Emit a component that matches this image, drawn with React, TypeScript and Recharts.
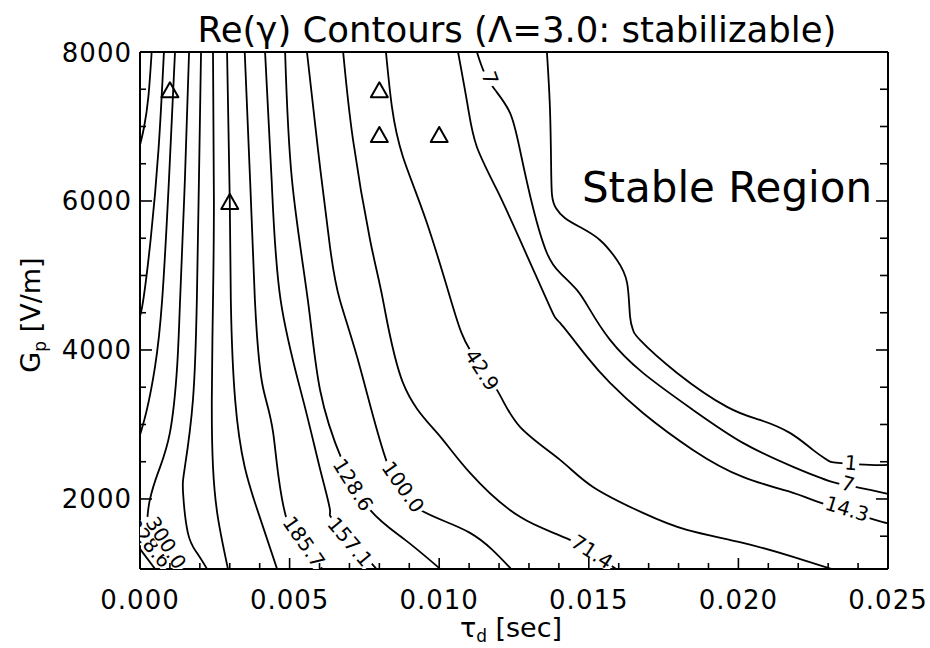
import { ComposedChart, Line, Scatter, XAxis, YAxis, Customized } from "recharts";

const FONT = "'DejaVu Sans', 'Liberation Sans', sans-serif";

// tau_d axis [sec]
const tauMajor = [0, 0.005, 0.01, 0.015, 0.02, 0.025];
const tauTicks = Array.from({ length: 26 }, (_, i) => i / 1000);

// G_p axis [V/m]
const gpMajor = [2000, 4000, 6000, 8000];
const gpTicks = [1500, 2000, 2500, 3000, 3500, 4000, 4500, 5000, 5500, 6000, 6500, 7000, 7500, 8000];

// contour lines of Re(gamma), as [tau_d, G_p] pairs
const level385 = [[0.00039, 8000], [0.00028, 7400], [0.00014, 7000], [0, 6750]];
const level357 = [[0.0008, 8000], [0.00062, 6700], [0.00036, 5500], [0.00012, 4700], [0, 4450]];
const level329 = [[0.00117, 8000], [0.00097, 6300], [0.00074, 4670], [0.0005, 3770], [0.00023, 3200], [0, 2860]];
const level329b = [[0, 1330], [0.0005, 1062]];
const level300 = [[0.00164, 8000], [0.0015, 6280], [0.00134, 4670], [0.00124, 3770], [0.001, 2890], [0.0006, 2350], [0.00033, 1990], [0.00025, 1760]];
const level271 = [[0.00204, 8000], [0.00197, 6280], [0.0019, 4670], [0.00177, 3330], [0.0015, 2430], [0.00144, 2080], [0.0016, 1545], [0.0019, 1277], [0.00224, 1062]];
const level243 = [[0.00244, 8000], [0.00247, 6010], [0.00244, 4670], [0.0024, 3330], [0.00244, 2430], [0.0026, 1760], [0.00294, 1062]];
const level214 = [[0.00291, 8000], [0.003, 6010], [0.00304, 4580], [0.00318, 3330], [0.0035, 2430], [0.004, 1760], [0.00458, 1062]];
const level186 = [[0.0035, 8000], [0.00368, 6280], [0.00384, 4670], [0.00408, 3560], [0.00445, 2890], [0.00491, 1720], [0.0061, 1062]];
const level157 = [[0.00418, 8000], [0.0044, 6280], [0.0047, 4670], [0.00545, 3330], [0.00602, 2400], [0.00635, 1850], [0.0065, 1700], [0.0079, 1062]];
const level129 = [[0.00485, 8000], [0.00508, 6280], [0.00561, 4670], [0.00602, 3460], [0.00675, 2525], [0.00769, 1854], [0.00886, 1451], [0.01003, 1062]];
const level100 = [[0.00558, 8000], [0.00595, 6685], [0.00635, 5383], [0.00668, 4670], [0.00735, 3773], [0.00826, 2484], [0.00936, 1854], [0.01103, 1545], [0.0124, 1062]];
const level71 = [[0.00679, 8000], [0.00712, 6819], [0.00769, 5477], [0.00812, 4672], [0.00879, 3558], [0.00993, 2887], [0.01103, 2350], [0.0127, 1760], [0.01437, 1451], [0.0159, 1062]];
const level43 = [[0.00822, 8000], [0.00842, 7262], [0.00879, 6591], [0.00959, 5705], [0.01046, 4578], [0.01103, 4001], [0.01193, 3464], [0.0127, 2968], [0.01404, 2525], [0.01514, 2162], [0.01681, 1813], [0.01828, 1585], [0.02015, 1411], [0.02183, 1223], [0.0231, 1062]];
const level14 = [[0.01063, 8000], [0.01096, 7262], [0.01126, 6725], [0.01193, 6148], [0.0127, 5477], [0.0137, 4578], [0.01404, 4363], [0.01494, 3907], [0.01571, 3558], [0.01681, 3155], [0.01848, 2659], [0.02015, 2297], [0.02183, 2082], [0.02266, 1961], [0.02457, 1720], [0.025, 1680]];
const level7 = [[0.01126, 8000], [0.0115, 7730], [0.01187, 7490], [0.01237, 7181], [0.0127, 6685], [0.01313, 5920], [0.0136, 5302], [0.01404, 5034], [0.0146, 4806], [0.01504, 4538], [0.01571, 4135], [0.01681, 3692], [0.01848, 3196], [0.02015, 2753], [0.02183, 2431], [0.02313, 2230], [0.02406, 2149], [0.025, 2068]];
const level1 = [[0.0136, 8000], [0.0137, 7262], [0.01374, 6500], [0.01377, 6081], [0.0139, 5906], [0.0142, 5772], [0.0147, 5651], [0.01537, 5477], [0.01594, 5209], [0.01628, 4900], [0.01638, 4444], [0.01648, 4269], [0.01671, 4135], [0.01795, 3692], [0.01962, 3236], [0.02072, 3061], [0.02172, 2887], [0.02249, 2659], [0.02296, 2525], [0.02333, 2484], [0.0244, 2457], [0.025, 2457]];

const contours = [level385, level357, level329, level329b, level300, level271, level243, level214, level186, level157, level129, level100, level71, level43, level14, level7, level1];

// contour labels
const labelText = ["1", "7", "14.3", "42.9", "71.4", "100.0", "128.6", "157.1", "185.7", "328.6", "300.0", "7"];
const labelTau = [0.02376, 0.02366, 0.02363, 0.01143, 0.01511, 0.00879, 0.00712, 0.00702, 0.00548, 0.0003, 0.00087, 0.0117];
const labelGp = [2484, 2203, 1867, 3732, 1290, 2162, 2189, 1424, 1424, 1411, 1411, 7651];
const labelAngle = [5, 15, 17, 57, 33, 55, 58, 50, 55, 50, 58, 70];

// operating points (triangles)
const markerTau = [0.001, 0.003, 0.008, 0.008, 0.01];
const markerGp = [7500, 6000, 7500, 6900, 6900];

const stableRegionAt = { t: 0.01477, g: 5987 };

const toRows = (pts: number[][]) => pts.map(([t, g]) => ({ t, g }));
const isMajor = (v: number, majors: number[]) => majors.some((m) => Math.abs(m - v) < 1e-9);

const labelRows = labelText.map((text, i) => ({ t: labelTau[i], g: labelGp[i], text, angle: labelAngle[i] }));
const markerRows = markerTau.map((t, i) => ({ t, g: markerGp[i] }));

const MAJOR = 11;
const MINOR = 6;

const BottomTick = ({ x, y, payload }: any) => {
  const major = isMajor(payload.value, tauMajor);
  return (
    <g>
      <line x1={x} y1={y} x2={x} y2={y - (major ? MAJOR : MINOR)} stroke="#000" strokeWidth={1.6} />
      {major && (
        <text x={x} y={y + 40} textAnchor="middle" fontSize={26} letterSpacing={1} fontFamily={FONT} fill="#000">
          {payload.value.toFixed(3)}
        </text>
      )}
    </g>
  );
};

const TopTick = ({ x, y, payload }: any) => {
  const major = isMajor(payload.value, tauMajor);
  return <line x1={x} y1={y} x2={x} y2={y + (major ? MAJOR : MINOR)} stroke="#000" strokeWidth={1.6} />;
};

const LeftTick = ({ x, y, payload }: any) => {
  const major = gpMajor.includes(payload.value);
  return (
    <g>
      <line x1={x} y1={y} x2={x + (major ? MAJOR + 1 : MINOR)} y2={y} stroke="#000" strokeWidth={1.6} />
      {major && (
        <text x={x - 8} y={y + 9.5} textAnchor="end" fontSize={26} letterSpacing={1} fontFamily={FONT} fill="#000">
          {payload.value}
        </text>
      )}
    </g>
  );
};

const RightTick = ({ x, y, payload }: any) => {
  const major = gpMajor.includes(payload.value);
  return <line x1={x} y1={y} x2={x - (major ? MAJOR + 1 : MINOR + 2)} y2={y} stroke="#000" strokeWidth={1.6} />;
};

const Triangle = ({ cx, cy }: any) => (
  <path
    d={`M${cx},${cy - 7}L${cx + 8.5},${cy + 8}L${cx - 8.5},${cy + 8}Z`}
    fill="none"
    stroke="#000"
    strokeWidth={2}
    strokeLinejoin="round"
  />
);

// label sits in a gap cut out of its contour line
const ContourText = ({ cx, cy, payload }: any) => {
  const w = [...payload.text].reduce((s: number, ch: string) => s + (ch === "." ? 6.5 : 12.7), 0) + 4;
  return (
    <g transform={`rotate(${payload.angle} ${cx} ${cy})`}>
      <rect x={cx - w / 2} y={cy - 8} width={w} height={16} fill="#fff" />
      <text x={cx} y={cy} textAnchor="middle" dominantBaseline="central" fontSize={20} fontFamily={FONT} fill="#000">
        {payload.text}
      </text>
    </g>
  );
};

const StableText = ({ cx, cy }: any) => (
  <text x={cx} y={cy} fontSize={42} fontFamily={FONT} fill="#000">
    Stable Region
  </text>
);

const Titles = () => (
  <g fontFamily={FONT} fill="#000">
    <text x={517} y={42} textAnchor="middle" fontSize={35.5}>
      Re(γ) Contours (Λ=3.0: stabilizable)
    </text>
    <text x={511} y={637} textAnchor="middle" fontSize={27}>
      τ
      <tspan fontSize={17} dy={5}>
        d
      </tspan>
      <tspan dy={-5}> [sec]</tspan>
    </text>
    <text transform="rotate(-90 40 315)" x={40} y={315} textAnchor="middle" fontSize={27}>
      G
      <tspan fontSize={17} dy={6}>
        p
      </tspan>
      <tspan dy={-6}> [V/m]</tspan>
    </text>
  </g>
);

const axisStroke = { stroke: "#000", strokeWidth: 2 };

export default function App() {
  return (
    <div style={{ position: "absolute", left: 0, top: 0, background: "#fff" }}>
      <ComposedChart width={930} height={648} margin={{ top: 51, right: 41, bottom: 0, left: 0 }}>
        <XAxis
          xAxisId="x"
          type="number"
          dataKey="t"
          domain={[0, 0.025]}
          allowDataOverflow
          ticks={tauTicks}
          interval={0}
          height={79}
          tickSize={0}
          tickMargin={0}
          tickLine={false}
          axisLine={axisStroke}
          tick={<BottomTick />}
        />
        <XAxis
          xAxisId="top"
          orientation="top"
          type="number"
          domain={[0, 0.025]}
          allowDataOverflow
          ticks={tauTicks}
          interval={0}
          height={1}
          tickSize={0}
          tickMargin={0}
          tickLine={false}
          axisLine={axisStroke}
          tick={<TopTick />}
        />
        <YAxis
          yAxisId="y"
          type="number"
          dataKey="g"
          domain={[1060, 8000]}
          allowDataOverflow
          ticks={gpTicks}
          interval={0}
          width={140}
          tickSize={0}
          tickMargin={0}
          tickLine={false}
          axisLine={axisStroke}
          tick={<LeftTick />}
        />
        <YAxis
          yAxisId="right"
          orientation="right"
          type="number"
          domain={[1060, 8000]}
          allowDataOverflow
          ticks={gpTicks}
          interval={0}
          width={1}
          tickSize={0}
          tickMargin={0}
          tickLine={false}
          axisLine={axisStroke}
          tick={<RightTick />}
        />
        {contours.map((c, i) => (
          <Line
            key={i}
            data={toRows(c)}
            dataKey="g"
            xAxisId="x"
            yAxisId="y"
            type="natural"
            stroke="#000"
            strokeWidth={1.8}
            dot={false}
            activeDot={false}
            isAnimationActive={false}
          />
        ))}
        <Scatter data={markerRows} dataKey="g" xAxisId="x" yAxisId="y" shape={(p: any) => <Triangle {...p} />} isAnimationActive={false} />
        <Scatter data={labelRows} dataKey="g" xAxisId="x" yAxisId="y" shape={(p: any) => <ContourText {...p} />} isAnimationActive={false} />
        <Scatter data={[stableRegionAt]} dataKey="g" xAxisId="x" yAxisId="y" shape={(p: any) => <StableText {...p} />} isAnimationActive={false} />
        <Customized component={Titles} />
      </ComposedChart>
    </div>
  );
}
